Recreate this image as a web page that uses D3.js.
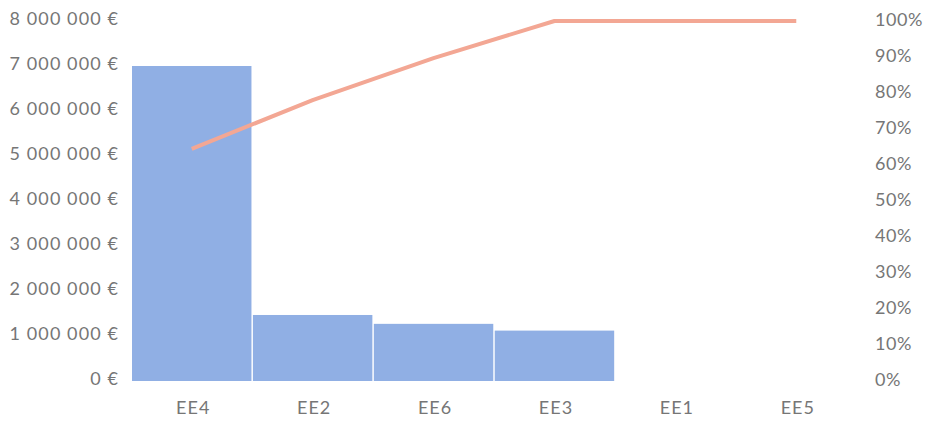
<!DOCTYPE html>
<html>
<head>
<meta charset="utf-8">
<script src="https://cdn.jsdelivr.net/npm/d3@7"></script>
<style>
  html, body { margin: 0; padding: 0; background: #ffffff; }
  svg { display: block; }
  .tick text { font-family: Lato, "Open Sans", sans-serif; font-weight: 400; fill: #767676; }
</style>
</head>
<body>
<svg id="chart" width="927" height="424"></svg>
<script>
// Pareto data: cost per item, sorted descending, plus cumulative share
const categories = ["EE4", "EE2", "EE6", "EE3", "EE1", "EE5"];
const costs = [7000000, 1467000, 1270000, 1120000, 0, 0];
const cumulativePct = [64.5, 78.0, 89.7, 100, 100, 100];
const costTicks = [0, 1000000, 2000000, 3000000, 4000000, 5000000, 6000000, 7000000, 8000000];
const pctTicks = [0, 10, 20, 30, 40, 50, 60, 70, 80, 90, 100];

const svg = d3.select("#chart");
const margin = { top: 21, right: 71, bottom: 43, left: 132 };
const W = 927, H = 424;

const x = d3.scaleBand()
  .domain(categories)
  .range([margin.left, W - margin.right])
  .paddingInner(0.012)
  .paddingOuter(0.0);

const yL = d3.scaleLinear().domain([0, 8000000]).range([H - margin.bottom, margin.top]);
const yR = d3.scaleLinear().domain([0, 100]).range([H - margin.bottom, margin.top]);

const fmtEuro = v => v === 0 ? "0 €" : d3.format(",")(v).replace(/,/g, " ") + " €";

// Bars
svg.append("g")
  .selectAll("rect")
  .data(categories.map((c, i) => ({ c, v: costs[i] })))
  .join("rect")
  .attr("x", d => x(d.c))
  .attr("width", x.bandwidth())
  .attr("y", d => yL(d.v))
  .attr("height", d => yL(0) - yL(d.v))
  .attr("fill", "#90afe4");

// Cumulative line
const line = d3.line()
  .x((d, i) => x(categories[i]) + x.bandwidth() / 2)
  .y(d => yR(d));

svg.append("path")
  .datum(cumulativePct)
  .attr("d", line)
  .attr("fill", "none")
  .attr("stroke", "#f3a794")
  .attr("stroke-width", 4)
  .attr("stroke-linejoin", "round")
  .attr("stroke-linecap", "butt");

// Left axis
const gL = svg.append("g")
  .attr("transform", `translate(${margin.left - 13},0)`)
  .call(d3.axisLeft(yL).tickValues(costTicks).tickFormat(fmtEuro).tickSize(0).tickPadding(0));
gL.select(".domain").remove();
gL.selectAll("text").attr("font-size", 18).attr("letter-spacing", "1.1px").attr("dy", "0.2em");

// Right axis
const gR = svg.append("g")
  .attr("transform", `translate(${W - margin.right + 19},0)`)
  .call(d3.axisRight(yR).tickValues(pctTicks).tickFormat(d => d + "%").tickSize(0).tickPadding(0));
gR.select(".domain").remove();
gR.selectAll("text").attr("font-size", 18).attr("letter-spacing", "0.6px").attr("dy", "0.24em");

// Category axis
const gX = svg.append("g")
  .attr("transform", `translate(0,${H - 16})`)
  .call(d3.axisBottom(x).tickSize(0).tickPadding(0));
gX.select(".domain").remove();
gX.selectAll("text").attr("font-size", 18).attr("letter-spacing", "1px")
  .attr("dx", "1.5px").attr("dy", "0.35em");
</script>
</body>
</html>
